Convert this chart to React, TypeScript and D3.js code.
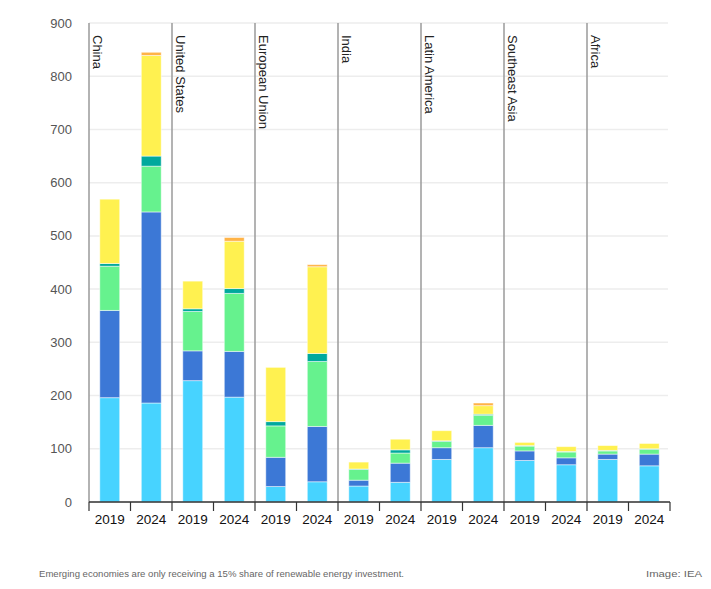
import * as d3 from 'd3'
import React from 'react'

// bars in order: region x year
const regions = ['China', 'United States', 'European Union', 'India', 'Latin America', 'Southeast Asia', 'Africa']
const years = ['2019', '2024']

// stack order bottom -> top, values per bar (region, year)
const seriesKeys = ['s1', 's2', 's3', 's4', 's5', 's6']
const seriesColors = ['#47d3ff', '#3c78d6', '#66f28e', '#00a99d', '#fff150', '#ffb347']

const s1 = [196, 186, 228, 197, 29, 38, 30, 37, 80, 102, 78, 70, 80, 68]
const s2 = [164, 359, 56, 86, 55, 104, 11, 36, 22, 42, 18, 13, 10, 22]
const s3 = [83, 86, 74, 109, 59, 122, 20, 19, 12, 19, 9, 11, 6, 9]
const s4 = [5, 19, 5, 9, 8, 15, 1, 6, 1, 2, 1, 1, 1, 1]
const s5 = [121, 189, 52, 89, 102, 163, 13, 20, 19, 16, 6, 9, 9, 10]
const s6 = [0, 6, 0, 7, 0, 4, 0, 0, 0, 5, 0, 0, 0, 0]

const yTicks = [0, 100, 200, 300, 400, 500, 600, 700, 800, 900]

const W = 711
const H = 589
const margin = { top: 23, right: 41, bottom: 87, left: 89 }

export default function App() {
    const seriesVals = [s1, s2, s3, s4, s5, s6]
    const rows = regions.flatMap((r, ri) =>
        years.map((yr, yi) => {
            const row: any = { region: r, year: yr }
            seriesKeys.forEach((k, si) => (row[k] = seriesVals[si][ri * 2 + yi]))
            return row
        })
    )
    const stacked = d3.stack().keys(seriesKeys)(rows)

    const x0 = d3.scaleBand().domain(regions).range([margin.left, W - margin.right])
    const x1 = d3.scaleBand().domain(years).range([0, x0.bandwidth()]).paddingInner(0.52).paddingOuter(0.26)
    const y = d3.scaleLinear().domain([0, 900]).range([H - margin.bottom, margin.top])

    const font = '"Liberation Sans", Arial, sans-serif'
    const y0 = y(0)

    return (
        <svg width={W} height={H} style={{ position: 'absolute', left: 0, top: 0 }} fontFamily={font}>
            <rect width={W} height={H} fill="#fff" />
            {/* gridlines */}
            {yTicks.map((t) => (
                <line key={t} x1={margin.left} x2={W - margin.right - 2} y1={y(t)} y2={y(t)} stroke="#ededed" strokeWidth={1.5} />
            ))}
            {yTicks.map((t) => (
                <text key={'l' + t} x={72} y={y(t)} dy="0.35em" textAnchor="end" fontSize={13} fill="#555">
                    {t}
                </text>
            ))}
            {/* bars */}
            {stacked.map((ser, si) => (
                <g key={seriesKeys[si]} fill={seriesColors[si]}>
                    {ser.map((d: any, i) =>
                        d[1] - d[0] > 0 ? (
                            <rect
                                key={i}
                                x={(x0(d.data.region) || 0) + (x1(d.data.year) || 0)}
                                y={y(d[1])}
                                width={x1.bandwidth()}
                                height={y(d[0]) - y(d[1])}
                                stroke="#fff"
                                strokeOpacity={0.55}
                                strokeWidth={0.9}
                            />
                        ) : null
                    )}
                </g>
            ))}
            {/* group separators and labels */}
            {regions.map((r) => {
                const gx = x0(r) || 0
                return (
                    <g key={r}>
                        <line x1={gx} x2={gx} y1={margin.top} y2={y0} stroke="#9a9a9a" strokeWidth={1.5} />
                        <text transform={`translate(${gx + 4},35) rotate(90)`} fontSize={13} fill="#222">
                            {r}
                        </text>
                    </g>
                )
            })}
            {/* x axis */}
            <line x1={margin.left} x2={W - margin.right} y1={y0} y2={y0} stroke="#333" strokeWidth={1.5} />
            {regions.map((r) =>
                years.map((yr) => {
                    const bx = (x0(r) || 0) + (x1(yr) || 0)
                    const cx = bx + x1.bandwidth() / 2
                    const step = x1.step()
                    return (
                        <g key={r + yr}>
                            <line x1={cx - step / 2} x2={cx - step / 2} y1={y0} y2={y0 + 9} stroke="#333" strokeWidth={1.2} />
                            <text x={cx} y={y0 + 22} textAnchor="middle" fontSize={13.5} fill="#111">
                                {yr}
                            </text>
                        </g>
                    )
                })
            )}
            <line x1={W - margin.right} x2={W - margin.right} y1={y0} y2={y0 + 9} stroke="#333" strokeWidth={1.2} />
            {/* footer */}
            <text x={39} y={577} fontSize={9.5} fill="#666" textLength={365} lengthAdjust="spacingAndGlyphs">
                Emerging economies are only receiving a 15% share of renewable energy investment.
            </text>
            <text x={646} y={577} fontSize={9.5} fill="#666" textLength={56} lengthAdjust="spacingAndGlyphs">
                Image: IEA
            </text>
        </svg>
    )
}
